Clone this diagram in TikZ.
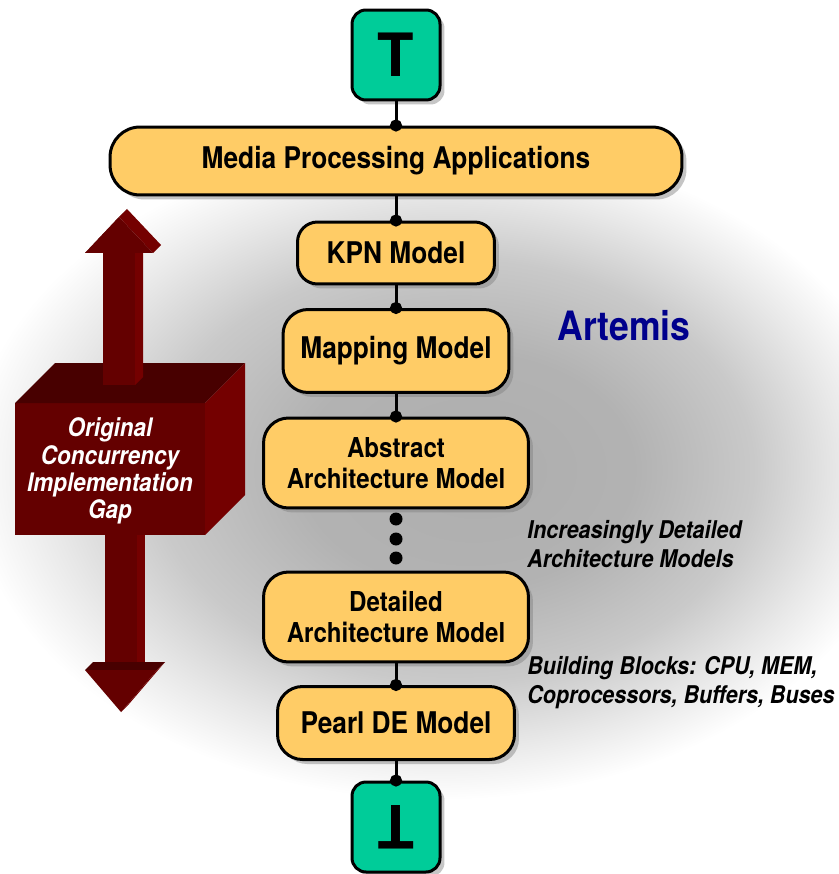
\documentclass[tikz,border=0pt]{standalone}
\usepackage{fontspec}
\setmainfont{TeX Gyre Heros}[FakeStretch=0.88]
\newfontfamily\glyphfont{TeX Gyre Heros}
\usetikzlibrary{positioning,shadows,arrows.meta}

\definecolor{stageyellow}{RGB}{255,204,102}
\definecolor{termgreen}{RGB}{0,204,153}
\definecolor{artblue}{RGB}{0,0,140}
\definecolor{gapfront}{RGB}{100,0,0}
\definecolor{gaptop}{RGB}{72,0,0}
\definecolor{gapside}{RGB}{116,0,0}

\pgfdeclareradialshading{haze}{\pgfpoint{5bp}{0bp}}{color(0bp)=(black!32); color(9bp)=(black!30); color(16bp)=(black!21); color(21bp)=(black!9); color(25bp)=(white); color(50bp)=(white)}

\begin{document}
\begin{tikzpicture}[x=0.02cm, y=-0.02cm,
  stage/.style={draw, line width=0.06cm, fill=stageyellow, rounded corners=0.5cm, align=center,
    font=\bfseries\fontsize{17}{19.5}\selectfont,
    drop shadow={shadow xshift=0.09cm, shadow yshift=-0.09cm, opacity=0.45}},
  twoline/.style={font=\bfseries\fontsize{15.6}{17.5}\selectfont},
  term/.style={draw, line width=0.06cm, fill=termgreen, rounded corners=0.28cm,
    minimum width=1.76cm, minimum height=1.8cm, inner sep=0pt,
    font=\glyphfont\bfseries\fontsize{34}{34}\selectfont,
    drop shadow={shadow xshift=0.09cm, shadow yshift=-0.09cm, opacity=0.45}},
  link/.style={line width=0.06cm, -{Circle[length=0.24cm]}, shorten >=-0.12cm},
  vdot/.style={circle, fill, inner sep=0pt, minimum size=0.26cm},
  note/.style={anchor=west, align=left, inner sep=0pt,
    font=\bfseries\itshape\fontsize{13.9}{16.5}\selectfont}]

\useasboundingbox (0,0) rectangle (838,874);
\shade[shading=haze] (-80,140) rectangle (860,800);

% the gap: a box with an arrow through it
\fill[gapfront] (105,535) rectangle (137,670);
\fill[gapside] (137,535) rectangle (145,662);
\fill[gaptop] (85,670) -- (93,662) -- (165,662) -- (157,670) -- cycle;
\fill[gapside] (121,712) -- (157,670) -- (165,662) -- (129,704) -- cycle;
\fill[gapfront] (85,670) -- (121,712) -- (157,670) -- cycle;
\fill[gapfront] (15,403) rectangle (205,535);
\fill[gaptop] (15,403) -- (55,363) -- (245,363) -- (205,403) -- cycle;
\fill[gapside] (205,403) -- (245,363) -- (245,495) -- (205,535) -- cycle;
\fill[gapfront] (103,253) rectangle (135,385);
\fill[gapside] (135,253) -- (143,245) -- (143,377) -- (135,385) -- cycle;
\fill[gaptop] (85,253) -- (119,217) -- (127,209) -- (93,245) -- cycle;
\fill[gapside] (119,217) -- (153,253) -- (161,245) -- (127,209) -- cycle;
\fill[gapfront] (85,253) -- (119,217) -- (153,253) -- cycle;
\node[align=center, text=white, font=\bfseries\itshape\fontsize{14.5}{15.5}\selectfont] (gaplabel) at (110,471)
  {Original\\Concurrency\\Implementation\\Gap};

\node[term] (top) at (396,55) {T};
\node[stage, minimum width=11.44cm, minimum height=1.36cm, rounded corners=0.6cm] (media) at (396,161) {Media Processing Applications};
\node[stage, minimum width=3.94cm, minimum height=1.24cm, rounded corners=0.4cm] (kpn) at (396,253) {KPN Model};
\node[stage, minimum width=4.52cm, minimum height=1.66cm] (mapping) at (396,351) {Mapping Model};
\node[stage, twoline, minimum width=5.3cm, minimum height=1.8cm] (abstract) at (396,463) {Abstract\\Architecture Model};
\node[stage, twoline, minimum width=5.3cm, minimum height=1.8cm] (detailed) at (396,617) {Detailed\\Architecture Model};
\node[stage, minimum width=4.74cm, minimum height=1.46cm] (pearl) at (396,723) {Pearl DE Model};
\node[term] (bottom) at (396,827) {\rotatebox{180}{T}};

\draw[link] (top.south) -- (media.north);
\draw[link] (media.south) -- (kpn.north);
\draw[link] (kpn.south) -- (mapping.north);
\draw[link] (mapping.south) -- (abstract.north);
\draw[link] (detailed.south) -- (pearl.north);
\draw[link] (pearl.south) -- (bottom.north);
\foreach \y [count=\i] in {519,539,558}
  \node[vdot] (more\i) at (396,\y) {};

\node[text=artblue, font=\bfseries\fontsize{23}{23}\selectfont] (artemis) at (624,326) {Artemis};
\node[note] (detailnote) at (527,544) {Increasingly Detailed\\Architecture Models};
\node[note] (blocknote) at (527,683) {Building Blocks: CPU, MEM,\\Coprocessors, Buffers, Buses};
\end{tikzpicture}
\end{document}
